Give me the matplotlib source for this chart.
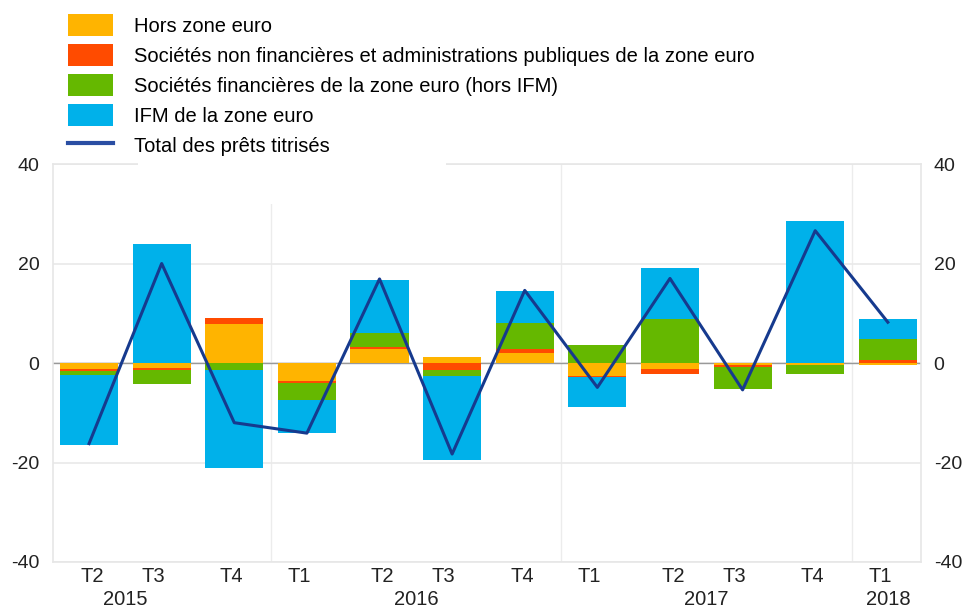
import numpy as np
import matplotlib
matplotlib.use("Agg")
import matplotlib.pyplot as plt
from matplotlib.patches import Patch, Rectangle
from matplotlib.lines import Line2D
from matplotlib.transforms import blended_transform_factory

plt.rcParams['font.family'] = ['Liberation Sans', 'DejaVu Sans']
plt.rcParams['axes.unicode_minus'] = False

# quarters, 2015 T2 -> 2018 T1
quarters = ['T2', 'T3', 'T4', 'T1', 'T2', 'T3', 'T4', 'T1', 'T2', 'T3', 'T4', 'T1']
years = ['2015', '2016', '2017', '2018']

hors_zone = [-1.3, -1.1, 7.9, -3.7, 2.8, 1.2, 2.0, -2.7, -1.2, -0.5, -0.4, -0.5]
snf_apu = [-0.3, -0.4, 1.2, -0.3, 0.5, -1.5, 0.8, -0.2, -1.0, -0.3, -0.1, 0.6]
soc_fin = [-0.8, -2.7, -1.5, -3.4, 2.7, -1.2, 5.2, 3.7, 8.9, -4.4, -1.8, 4.2]
ifm = [-14.0, 24.0, -19.7, -6.6, 10.6, -16.8, 6.4, -5.9, 10.1, 0.0, 28.6, 4.0]
total = [-16.2, 20.0, -12.0, -14.1, 16.9, -18.3, 14.6, -4.9, 17.0, -5.4, 26.6, 8.2]

labels = ['Hors zone euro',
          'Sociétés non financières et administrations publiques de la zone euro',
          'Sociétés financières de la zone euro (hors IFM)',
          'IFM de la zone euro',
          'Total des prêts titrisés']
colors = ['#ffb400', '#ff4b00', '#65b800', '#00b1ea']
line_color = '#163a8e'

# layout bits
label_shift = {'T1': -0.11, 'T2': 0.04, 'T3': -0.12, 'T4': -0.04}
year_x = [0.5, 4.5, 8.5, 11]
fs = 14.5

fig = plt.figure(figsize=(9.66, 6.1), dpi=100)
ax = fig.add_axes([0.0546, 0.0787, 0.8983, 0.6524])

x = np.arange(len(quarters))
pos_base = np.zeros(len(x))
neg_base = np.zeros(len(x))
for vals, c in zip([hors_zone, snf_apu, soc_fin, ifm], colors):
    v = np.array(vals)
    bottom = np.where(v >= 0, pos_base, neg_base)
    ax.bar(x, v, 0.8, bottom=bottom, color=c, zorder=3, linewidth=0)
    pos_base += np.where(v >= 0, v, 0)
    neg_base += np.where(v < 0, v, 0)

ax.plot(x, total, color=line_color, lw=2.2, zorder=4)

ax.set_xlim(-0.5, 11.45)
ax.set_ylim(-40, 40)
ax.set_yticks([-40, -20, 0, 20, 40])
ax.yaxis.grid(True, color='#e9e9e9', lw=1.2, zorder=0)
ax.axhline(0, color='#999999', lw=1.0, zorder=2)
for xv in [2.5, 6.5, 10.5]:
    ax.axvline(xv, color='#ececec', lw=1.0, zorder=0)
for s in ax.spines.values():
    s.set_color('#e6e6e6')
    s.set_linewidth(1.2)

ax.tick_params(axis='y', length=0, labelsize=fs - 0.5, colors='#222222',
               labelright=True, pad=9.5)
ax.set_xticks([])

tr = blended_transform_factory(ax.transData, ax.transAxes)
for i, q in enumerate(quarters):
    ax.text(i + label_shift[q], -0.0377, q, transform=tr, ha='center',
            va='center', fontsize=fs, color='#222222')
for xp, y in zip(year_x, years):
    ax.text(xp, -0.0955, y, transform=tr, ha='center', va='center',
            fontsize=fs, color='#222222')

# white patch under the legend (as in the original)
fig.patches.append(Rectangle((138 / 966, 1 - 204 / 610), 308 / 966, 50 / 610,
                             transform=fig.transFigure, facecolor='white',
                             edgecolor='none', zorder=1))

handles = [Patch(facecolor=c, edgecolor='none') for c in colors]
handles.append(Line2D([0], [0], color='#2a4ea3', lw=3))
fig.legend(handles, labels, loc='upper left',
           bbox_to_anchor=(67.7 / 966, 1 - 14 / 610), frameon=False,
           fontsize=fs, handlelength=2.27, handleheight=1.3,
           labelspacing=0.4, handletextpad=1.0, borderpad=0,
           borderaxespad=0)

fig.savefig('out.png', dpi=100)
